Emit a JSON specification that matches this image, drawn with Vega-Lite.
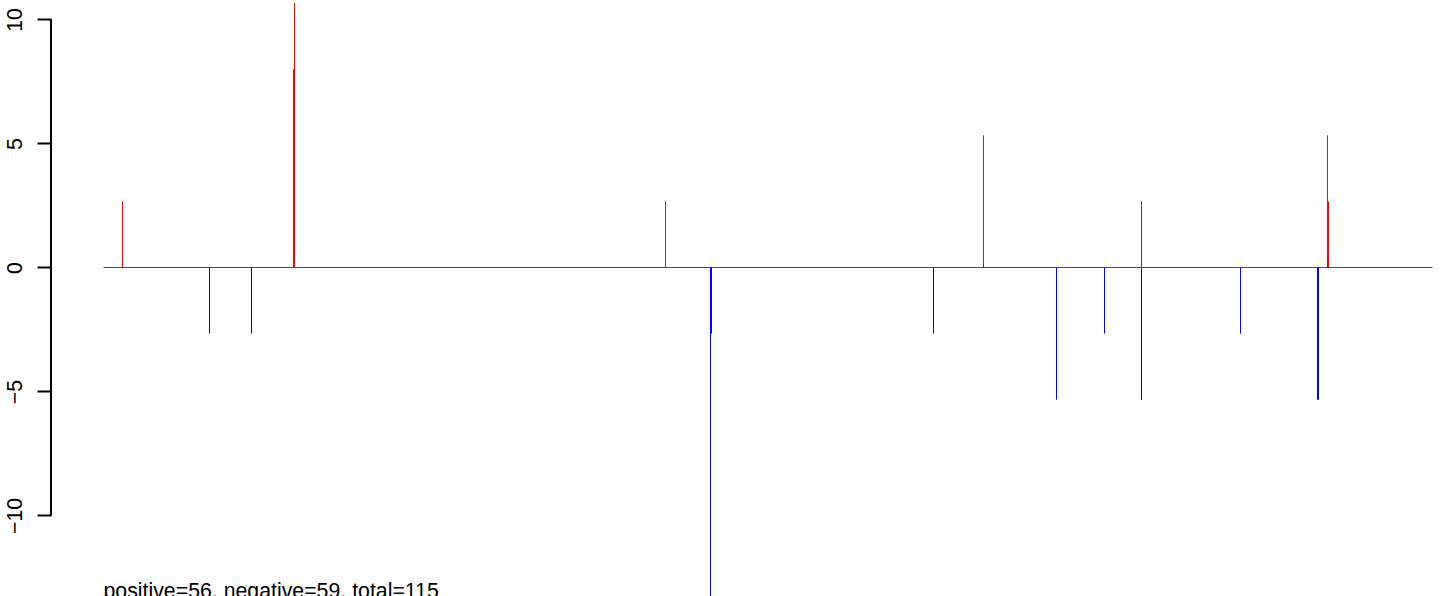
{
  "$schema": "https://vega.github.io/schema/vega-lite/v6.json",
  "width": 1393,
  "height": 596,
  "autosize": {"type": "none"},
  "padding": {"left": 51, "top": 0, "right": 0, "bottom": 0},
  "background": "white",
  "config": {"view": {"stroke": null}},
  "datasets": {
    "spikes": [
      {"x": 20, "value": 2.667, "sign": "pos"},
      {"x": 107, "value": -2.667, "sign": "neg"},
      {"x": 149, "value": -2.667, "sign": "neg"},
      {"x": 191, "value": 8, "sign": "pos"},
      {"x": 192, "value": 10.667, "sign": "pos"},
      {"x": 563, "value": 2.667, "sign": "pos"},
      {"x": 608, "value": -13.333, "sign": "neg"},
      {"x": 609, "value": -2.667, "sign": "neg"},
      {"x": 831, "value": -2.667, "sign": "neg"},
      {"x": 881, "value": 5.333, "sign": "pos"},
      {"x": 954, "value": -5.333, "sign": "neg"},
      {"x": 1002, "value": -2.667, "sign": "neg"},
      {"x": 1039, "value": 2.667, "sign": "pos"},
      {"x": 1039, "value": -5.333, "sign": "neg"},
      {"x": 1138, "value": -2.667, "sign": "neg"},
      {"x": 1215, "value": -5.333, "sign": "neg"},
      {"x": 1216, "value": -5.333, "sign": "neg"},
      {"x": 1225, "value": 5.333, "sign": "pos"},
      {"x": 1226, "value": 2.667, "sign": "pos"}
    ],
    "zero": [{"x": 1, "x2": 1330, "y": 0}],
    "axisline": [{"x": -51.5, "y": -10, "y2": 10}],
    "note": [{"x": 1, "y": -13.34, "label": "positive=56, negative=59, total=115"}]
  },
  "layer": [
    {
      "data": {"name": "zero"},
      "mark": {"type": "rule", "color": "#4D4D4D", "strokeWidth": 1},
      "encoding": {
        "x": {"field": "x", "type": "quantitative", "scale": {"domain": [-51.5, 1341.5], "nice": false, "zero": false}, "axis": null},
        "x2": {"field": "x2"},
        "y": {"field": "y", "type": "quantitative", "scale": {"domain": [-13.246, 10.786], "nice": false, "zero": false},
          "axis": {"values": [-10, -5, 0, 5, 10], "domain": false, "grid": false, "tickSize": 14, "tickWidth": 2, "tickColor": "black",
            "labelAngle": -90, "labelAlign": "center", "labelBaseline": "alphabetic", "labelPadding": 16,
            "labelFont": "Liberation Sans", "labelFontSize": 21.3, "labelColor": "black", "title": null, "labelOverlap": false, "labelFlush": false}}
      }
    },
    {
      "data": {"name": "axisline"},
      "mark": {"type": "rule", "color": "black", "strokeWidth": 2},
      "encoding": {
        "x": {"field": "x", "type": "quantitative"},
        "y": {"field": "y", "type": "quantitative"},
        "y2": {"field": "y2"}
      }
    },
    {
      "data": {"name": "spikes"},
      "mark": {"type": "rule", "strokeWidth": 1},
      "encoding": {
        "x": {"field": "x", "type": "quantitative"},
        "y": {"field": "value", "type": "quantitative"},
        "y2": {"datum": 0},
        "color": {"field": "sign", "type": "nominal", "scale": {"domain": ["pos", "neg"], "range": ["#FF0000", "#0000FF"]}, "legend": null}
      }
    },
    {
      "data": {"name": "note"},
      "mark": {"type": "text", "align": "left", "baseline": "alphabetic", "font": "Liberation Sans", "fontSize": 21.3, "color": "black"},
      "encoding": {
        "x": {"field": "x", "type": "quantitative"},
        "y": {"field": "y", "type": "quantitative"},
        "text": {"field": "label"}
      }
    }
  ]
}
